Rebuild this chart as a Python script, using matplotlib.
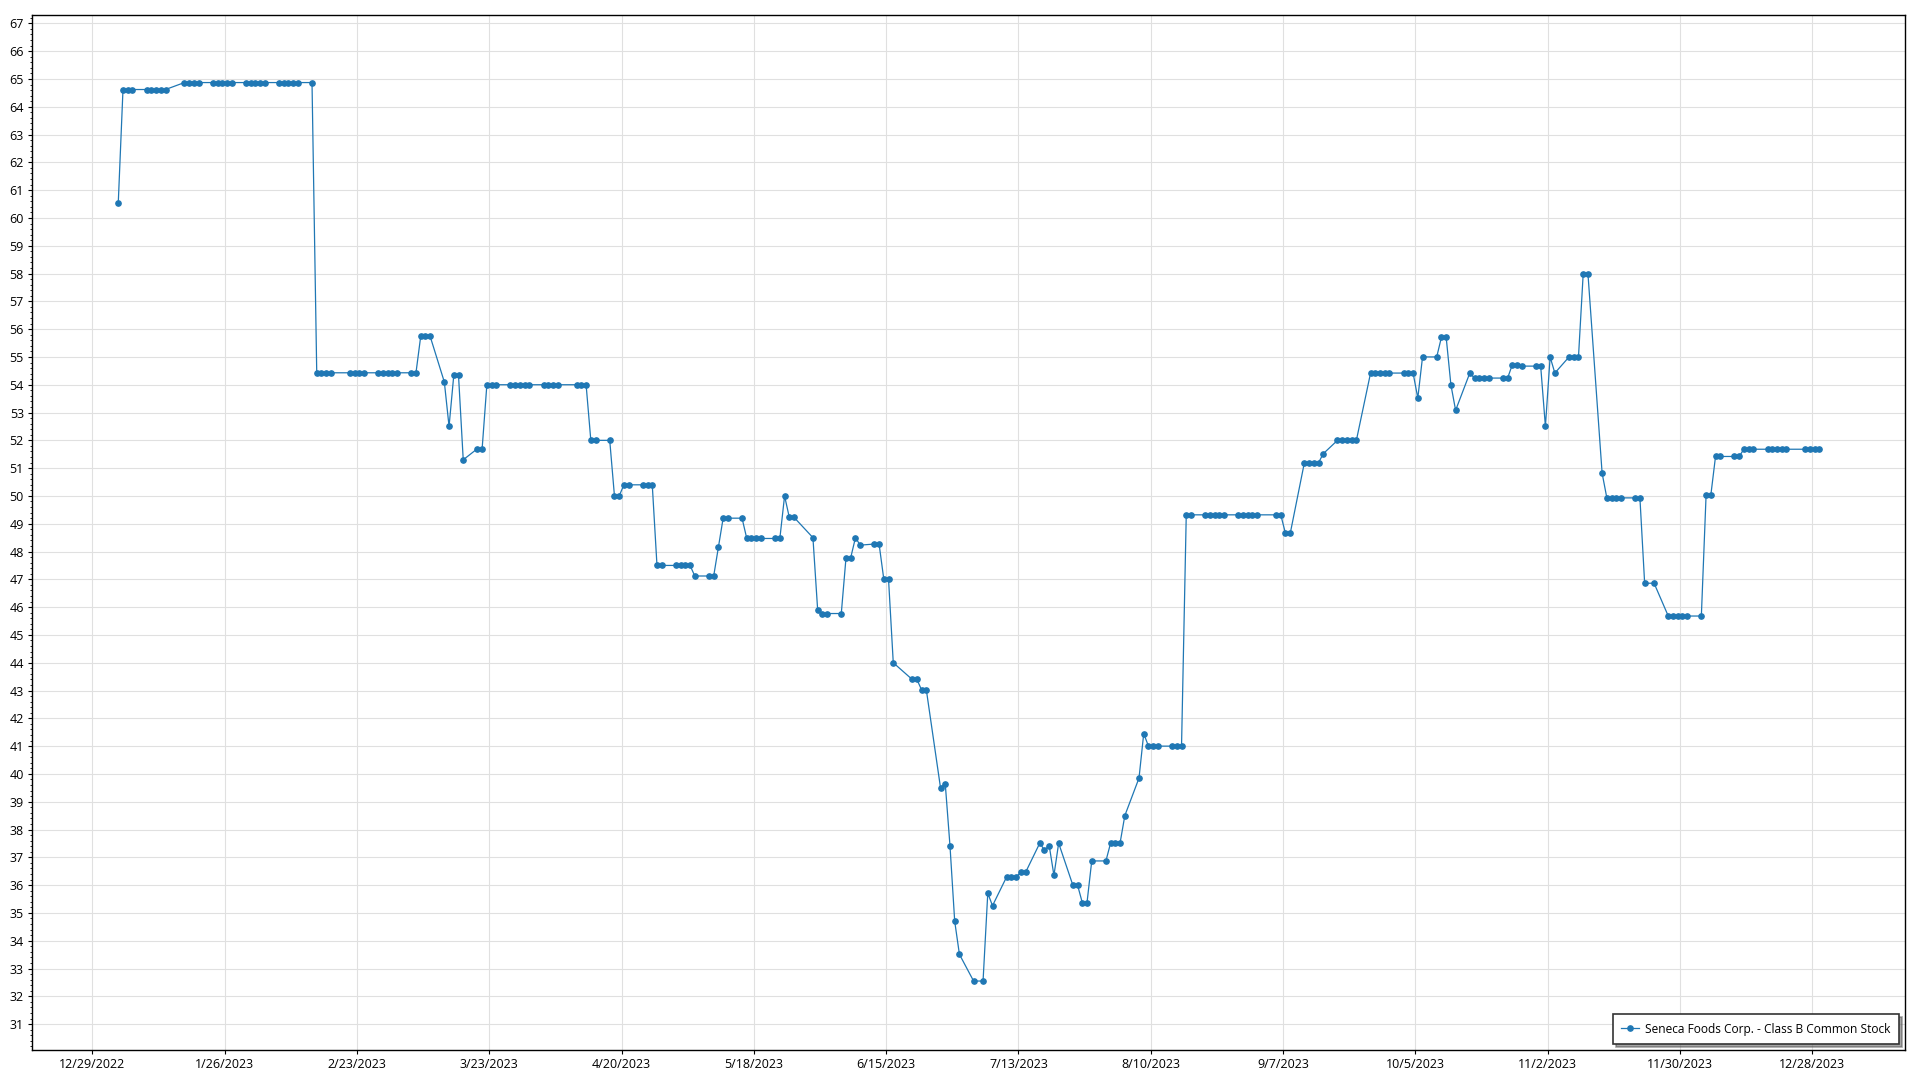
import matplotlib
matplotlib.use("Agg")
import matplotlib.pyplot as plt
from matplotlib.ticker import MultipleLocator, AutoMinorLocator
import pandas as pd

plt.rcParams.update(
    {
        "font.family": ["Open Sans", "DejaVu Sans"],
        "font.size": 9,
        "axes.linewidth": 1.0,
    }
)

# Closing prices per trading day
jan = [60.54, 64.62, 64.62, 64.62, 64.62, 64.62, 64.62, 64.62, 64.62,
       64.87, 64.87, 64.87, 64.87, 64.87, 64.87, 64.87, 64.87, 64.87, 64.87, 64.87]
feb = [64.87, 64.87, 64.87, 64.87, 64.87, 64.87, 64.87, 64.87, 64.87,
       54.43, 54.43, 54.43, 54.43, 54.43, 54.43, 54.43, 54.43, 54.43, 54.43]
mar = [54.43, 54.43, 54.43, 54.43, 54.43, 55.74, 55.74, 55.74, 54.10, 52.50,
       54.34, 54.34, 51.30, 51.70, 51.70, 54.00, 54.00, 54.00, 54.00, 54.00,
       54.00, 54.00, 54.00]
apr = [54.00, 54.00, 54.00, 54.00, 54.00, 54.00, 54.00, 52.00, 52.00, 52.00,
       50.00, 50.00, 50.40, 50.40, 50.40, 50.40, 50.40, 47.50, 47.50]
may = [47.50, 47.50, 47.50, 47.50, 47.12, 47.12, 47.12, 48.17, 49.20, 49.20,
       49.20, 48.47, 48.47, 48.47, 48.47, 48.47, 48.47, 50.00, 49.23, 49.23,
       48.50, 45.90]
jun = [45.77, 45.77, 45.77, 47.78, 47.78, 48.50, 48.23, 48.27, 48.27, 47.00,
       47.00, 44.00, 43.40, 43.40, 43.02, 43.02, 39.50, 39.65, 37.42, 34.70,
       33.51]
jul = [32.55, 32.55, 35.71, 35.26, 36.30, 36.30, 36.30, 36.46, 36.46, 37.51,
       37.26, 37.42, 36.35, 37.51, 36.00, 36.00, 35.37, 35.37, 36.87, 36.87]
aug = [37.52, 37.52, 37.52, 38.50, 39.85, 41.45, 41.00, 41.00, 41.00, 41.00,
       41.00, 41.00, 49.32, 49.32, 49.32, 49.32, 49.32, 49.32, 49.32, 49.32,
       49.32, 49.32, 49.32]
sep = [49.32, 49.32, 49.32, 48.65, 48.65, 51.20, 51.20, 51.20, 51.20, 51.52,
       52.00, 52.00, 52.00, 52.00, 52.00, 54.42, 54.42, 54.42, 54.42, 54.42]
oct_ = [54.42, 54.42, 54.42, 53.52, 55.00, 55.00, 55.71, 55.71, 54.00, 53.08,
        54.42, 54.24, 54.24, 54.24, 54.24, 54.24, 54.24, 54.72, 54.72, 54.67,
        54.67, 54.67]
nov = [52.50, 55.00, 54.42, 55.00, 55.00, 55.00, 58.00, 58.00, 50.82, 49.93,
       49.93, 49.93, 49.93, 49.93, 49.93, 46.86, 46.86, 45.68, 45.68, 45.68,
       45.68]
dec = [45.68, 45.68, 50.02, 50.02, 51.42, 51.42, 51.42, 51.42, 51.68, 51.68,
       51.68, 51.68, 51.68, 51.68, 51.68, 51.68, 51.68, 51.68, 51.68, 51.68]

# NYSE closures in 2023
holidays = ["2023-01-02", "2023-01-16", "2023-02-20", "2023-04-07", "2023-05-29",
            "2023-06-19", "2023-07-04", "2023-09-04", "2023-11-23", "2023-12-25"]

series_name = "Seneca Foods Corp. - Class B Common Stock"

prices = jan + feb + mar + apr + may + jun + jul + aug + sep + oct_ + nov + dec
days = pd.bdate_range("2023-01-03", "2023-12-29")
days = days[~days.isin(pd.to_datetime(holidays))]
assert len(days) == len(prices)
df = pd.DataFrame({"date": days + pd.Timedelta(hours=12), "close": prices})

fig = plt.figure(figsize=(19.2, 10.8), dpi=100)
ax = fig.add_axes([0.0168, 0.0278, 0.9754, 0.9583])

ax.plot(
    df["date"],
    df["close"],
    color="#1f77b4",
    linewidth=0.9,
    marker="o",
    markersize=3.8,
    label=series_name,
)

# x ticks every 28 days from 12/29/2022
tick_dates = pd.date_range("2022-12-29", periods=14, freq="28D")
ax.set_xticks(tick_dates)
ax.set_xticklabels([f"{d.month}/{d.day}/{d.year}" for d in tick_dates])
ax.set_xlim(pd.Timestamp("2022-12-29") - pd.Timedelta(days=12.7),
            pd.Timestamp("2022-12-29") + pd.Timedelta(days=383.6))

ax.set_ylim(30.07, 67.3)
ax.yaxis.set_major_locator(MultipleLocator(1))
ax.yaxis.set_minor_locator(AutoMinorLocator(5))

ax.grid(True, which="major", color="#e0e0e0", linewidth=0.8)
ax.set_axisbelow(True)
for s in ax.spines.values():
    s.set_color("black")

ax.tick_params(axis="both", which="major", length=3, width=0.8, pad=3,
               labelsize=9, colors="black")
ax.tick_params(axis="y", which="minor", length=1.5, width=0.6)
ax.tick_params(axis="x", which="minor", bottom=False)

leg = ax.legend(
    loc="lower right",
    fancybox=False,
    shadow=True,
    framealpha=1,
    edgecolor="#333333",
    fontsize=8.6,
    borderaxespad=0.5,
    borderpad=0.7,
    handlelength=1.5,
    handletextpad=0.5,
)
leg.get_frame().set_linewidth(1.2)

fig.savefig("out.png", dpi=100)
